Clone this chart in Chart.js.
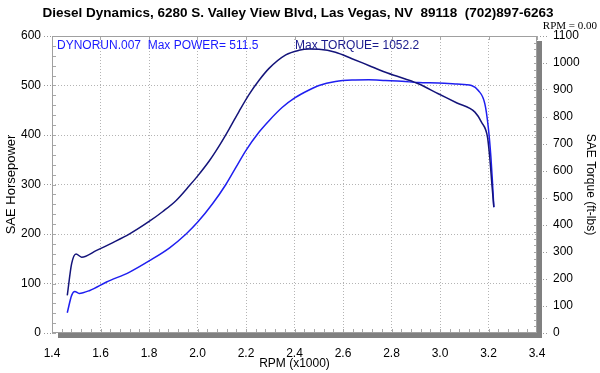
<!DOCTYPE html>
<html>
<head>
<meta charset="utf-8">
<script src="https://cdn.jsdelivr.net/npm/chart.js@4/dist/chart.umd.min.js"></script>
<style>
  html, body { margin: 0; padding: 0; background: #fff; }
  #wrap { width: 600px; height: 373px; }
</style>
</head>
<body>
<div id="wrap"><canvas id="dyno" width="600" height="373"></canvas></div>
<script>
// rpm (x1000) and SAE torque
const tqRpm = [1.463, 1.481, 1.499, 1.522, 1.584, 1.651, 1.720, 1.802, 1.857, 1.912, 1.967, 2.001, 2.049, 2.090, 2.131, 2.172, 2.213, 2.254, 2.295, 2.364, 2.418, 2.460, 2.501, 2.569, 2.637, 2.706, 2.775, 2.857, 2.911, 2.993, 3.070, 3.144, 3.171, 3.196, 3.205, 3.215, 3.222];
const torque = [139, 257, 293, 281, 306, 335, 367, 414, 450, 491, 546, 582, 638, 694, 756, 822, 884, 936, 980, 1030, 1047, 1052, 1051, 1040, 1016, 991, 966, 941, 923, 886, 852, 818, 781, 725, 651, 540, 466];

// rpm (x1000) and SAE horsepower
const hpRpm = [1.463, 1.481, 1.494, 1.512, 1.556, 1.625, 1.720, 1.802, 1.885, 1.953, 2.001, 2.062, 2.117, 2.159, 2.200, 2.254, 2.295, 2.350, 2.401, 2.460, 2.501, 2.569, 2.637, 2.706, 2.775, 2.843, 2.911, 2.993, 3.070, 3.130, 3.158, 3.185, 3.199, 3.210, 3.216, 3.222];
const horsepower = [41, 76, 84, 80, 86, 103, 123, 146, 172, 200, 224, 261, 300, 335, 369, 406, 429, 456, 475, 491, 500, 508, 511, 511.5, 510, 508.5, 506, 505, 503, 500, 490, 463, 416, 355, 308, 254];

// small cursor mark sitting on the zero line
const cursorRpm = [3.16, 3.21];
const cursorVal = [0, 0];

const titleText = 'Diesel Dynamics, 6280 S. Valley View Blvd, Las Vegas, NV  89118  (702)897-6263';
const runText = 'DYNORUN.007  Max POWER= 511.5';
const torqueText = 'Max TORQUE= 1052.2';
const rpmText = 'RPM = 0.00';

const toPoints = (xs, ys) => xs.map((x, i) => ({ x: x, y: ys[i] }));

const SANS = "'Liberation Sans', Arial, sans-serif";
const GRID = '#b4b4b4';

const dynoDecor = {
    id: 'dynoDecor',
    beforeDatasetsDraw(chart) {
        const { ctx, chartArea: a, scales } = chart;
        ctx.save();
        ctx.strokeStyle = '#a8a8a8';
        ctx.lineWidth = 1;
        ctx.beginPath();
        // minor ticks along bottom and top
        for (let v = 1.4; v <= 3.4001; v += 0.04) {
            const x = Math.round(scales.x.getPixelForValue(v)) + 0.5;
            ctx.moveTo(x, a.bottom);
            ctx.lineTo(x, a.bottom - 4);
        }
        for (let v = 1.4; v <= 3.4001; v += 0.2) {
            const x = Math.round(scales.x.getPixelForValue(v)) + 0.5;
            ctx.moveTo(x, a.top);
            ctx.lineTo(x, a.top + 4);
        }
        // minor ticks on the horsepower side
        for (let v = 0; v <= 600; v += 20) {
            const y = Math.round(scales.hp.getPixelForValue(v)) + 0.5;
            ctx.moveTo(a.left, y);
            ctx.lineTo(a.left + 4, y);
        }
        // minor ticks on the torque side
        for (let v = 0; v <= 1100; v += 25) {
            const y = Math.round(scales.tq.getPixelForValue(v)) + 0.5;
            ctx.moveTo(a.right, y);
            ctx.lineTo(a.right - 3, y);
        }
        ctx.stroke();
        ctx.restore();
    },
    afterDraw(chart) {
        const { ctx, chartArea: a } = chart;
        ctx.save();
        // 3D shadow on right and bottom
        ctx.fillStyle = '#808080';
        ctx.fillRect(a.right, a.top + 5, 5, a.bottom - a.top);
        ctx.fillRect(a.left + 6, a.bottom, a.right - a.left - 1, 5);
        // frame
        ctx.strokeStyle = '#a0a0a0';
        ctx.lineWidth = 1;
        ctx.strokeRect(a.left + 0.5, a.top + 0.5, a.right - a.left - 1, a.bottom - a.top - 1);

        ctx.textBaseline = 'middle';
        ctx.fillStyle = '#000';
        ctx.font = 'bold 13.5px ' + SANS;
        ctx.textAlign = 'center';
        ctx.fillText(titleText, 298, 13);

        ctx.font = "11px 'Liberation Serif', 'Times New Roman', serif";
        ctx.textAlign = 'right';
        ctx.fillText(rpmText, 597, 26);

        ctx.font = '12px ' + SANS;
        ctx.textAlign = 'left';
        ctx.fillStyle = '#1a1aff';
        ctx.fillText(runText, 57, 46);
        ctx.fillStyle = '#1a1a8c';
        ctx.fillText(torqueText, 295, 46);
        ctx.restore();
    }
};

new Chart(document.getElementById('dyno'), {
    type: 'line',
    data: {
        datasets: [{
            label: 'SAE Torque',
            data: toPoints(tqRpm, torque),
            yAxisID: 'tq',
            borderColor: '#14147a',
            borderWidth: 1.5,
            pointRadius: 0,
            cubicInterpolationMode: 'monotone'
        }, {
            label: 'SAE Horsepower',
            data: toPoints(hpRpm, horsepower),
            yAxisID: 'hp',
            borderColor: '#1f1ff0',
            borderWidth: 1.5,
            pointRadius: 0,
            cubicInterpolationMode: 'monotone'
        }, {
            label: 'cursor',
            data: toPoints(cursorRpm, cursorVal),
            yAxisID: 'hp',
            borderColor: '#14147a',
            borderWidth: 2,
            pointRadius: 0,
            clip: 3
        }]
    },
    options: {
        responsive: false,
        animation: false,
        events: [],
        layout: { padding: { top: 36, left: 0, right: 0, bottom: 0 } },
        plugins: {
            legend: { display: false },
            title: { display: false },
            tooltip: { enabled: false }
        },
        scales: {
            x: {
                type: 'linear',
                min: 1.4,
                max: 3.4,
                afterFit: s => { s.height = 40; },
                ticks: {
                    stepSize: 0.2,
                    color: '#000',
                    padding: 13,
                    font: { family: SANS, size: 12 },
                    callback: v => v.toFixed(1)
                },
                grid: { color: GRID, drawTicks: false },
                border: { display: false, dash: [1, 2] },
                title: { display: true, text: 'RPM (x1000)', color: '#000', font: { family: SANS, size: 12 }, padding: { top: 0, bottom: 2 } }
            },
            hp: {
                position: 'left',
                min: 0,
                max: 600,
                afterFit: s => { s.width = 52; },
                ticks: { stepSize: 100, color: '#000', padding: 3, font: { family: SANS, size: 12 }, callback: v => String(v) },
                grid: { color: GRID, tickLength: 8, tickColor: '#999', tickBorderDash: [1, 2] },
                border: { display: false, dash: [1, 2] },
                title: { display: true, text: 'SAE Horsepower', color: '#000', font: { family: SANS, size: 13 }, padding: { top: 4, bottom: 0 } }
            },
            tq: {
                position: 'right',
                min: 0,
                max: 1100,
                afterFit: s => { s.width = 63; },
                ticks: { stepSize: 100, color: '#000', padding: 4, font: { family: SANS, size: 12 }, callback: v => String(v) },
                grid: { drawOnChartArea: false, tickLength: 12, tickColor: '#999', tickBorderDash: [1, 2] },
                border: { display: false },
                title: { display: true, text: 'SAE Torque (ft-lbs)', color: '#000', font: { family: SANS, size: 12 }, padding: { top: 2, bottom: 0 } }
            }
        }
    },
    plugins: [dynoDecor]
});
</script>
</body>
</html>
